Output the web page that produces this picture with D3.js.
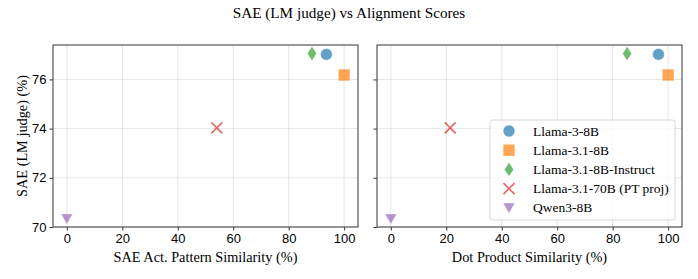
<!DOCTYPE html>
<html>
<head>
<meta charset="utf-8">
<script src="https://cdn.jsdelivr.net/npm/d3@7"></script>
<style>
  body { margin: 0; background: #fff; }
  svg { font-family: "Liberation Serif", "Times New Roman", serif; }
  .tick text { font-size: 13px; fill: #000; }
  .grid line { stroke: #000; stroke-opacity: 0.1; }
</style>
</head>
<body>
<svg id="chart" width="698" height="279"></svg>
<script>
// Model names, marker shapes and colours
const models = ["Llama-3-8B", "Llama-3.1-8B", "Llama-3.1-8B-Instruct", "Llama-3.1-70B (PT proj)", "Qwen3-8B"];
const shapes = ["circle", "square", "diamond", "cross", "triangle"];
const colors = ["#1f77b4", "#ff7f0e", "#2ca02c", "#d62728", "#9467bd"];

// Y values (SAE LM judge %), shared by both panels
const saeJudge = [77.02, 76.18, 77.05, 74.03, 70.34];
// X values per panel
const actPattern = [93.6, 100, 88.4, 54.1, 0];
const dotProduct = [96.5, 100, 85.2, 21.4, 0];

const xTicks = [0, 20, 40, 60, 80, 100];
const yTicks = [70, 72, 74, 76];

const panels = [
  { x: actPattern, label: "SAE Act. Pattern Similarity (%)", left: 53, right: 358, showY: true },
  { x: dotProduct, label: "Dot Product Similarity (%)", left: 377, right: 682, showY: false },
];

const plotTop = 45, plotBottom = 227;
const svg = d3.select("#chart");

svg.append("text")
  .attr("x", 349).attr("y", 18)
  .attr("text-anchor", "middle")
  .style("font-size", "15.2px")
  .text("SAE (LM judge) vs Alignment Scores");

const yScale = d3.scaleLinear().domain([70, 77.4]).range([plotBottom, plotTop]);

function markerPath(shape, s) {
  switch (shape) {
    case "circle": return d3.symbol(d3.symbolCircle, Math.PI * s * s)();
    case "square": return `M${-s},${-s}H${s}V${s}H${-s}Z`;
    case "diamond": return `M0,${-s * 1.2}L${s * 0.78},0L0,${s * 1.2}L${-s * 0.78},0Z`;
    case "cross": return `M${-s},${-s}L${s},${s}M${-s},${s}L${s},${-s}`;
    case "triangle": return `M${-s},${-s * 0.8}L${s},${-s * 0.8}L0,${s * 0.95}Z`;
  }
}

function drawMarker(g, i, cx, cy) {
  const shape = shapes[i];
  const size = shape === "cross" ? 5.5 : 5.9;
  const p = g.append("path")
    .attr("transform", `translate(${cx},${cy})`)
    .attr("d", markerPath(shape, size));
  if (shape === "cross") {
    p.attr("fill", "none").attr("stroke", colors[i]).attr("stroke-width", 1.6).attr("stroke-opacity", 0.7);
  } else {
    p.attr("fill", colors[i]).attr("fill-opacity", 0.7)
      .attr("stroke", "#fff").attr("stroke-width", 0.6).attr("stroke-opacity", 0.7);
  }
}

panels.forEach((pn) => {
  const xScale = d3.scaleLinear().domain([-5, 105]).range([pn.left, pn.right]);
  const g = svg.append("g");

  // grid
  const grid = g.append("g").attr("class", "grid");
  grid.selectAll("line.vx").data(xTicks).join("line").attr("class", "vx")
    .attr("x1", (d) => xScale(d)).attr("x2", (d) => xScale(d))
    .attr("y1", plotTop).attr("y2", plotBottom);
  grid.selectAll("line.hy").data(yTicks).join("line").attr("class", "hy")
    .attr("x1", pn.left).attr("x2", pn.right)
    .attr("y1", (d) => yScale(d)).attr("y2", (d) => yScale(d));

  // axes
  const xAxis = d3.axisBottom(xScale).tickValues(xTicks).tickSize(3.5).tickPadding(3);
  const gx = g.append("g").attr("transform", `translate(0,${plotBottom})`).call(xAxis);
  gx.select(".domain").remove();
  gx.selectAll(".tick line").attr("stroke", "#333");

  const yAxis = d3.axisLeft(yScale).tickValues(yTicks).tickSize(3.5).tickPadding(3);
  if (!pn.showY) yAxis.tickFormat("");
  const gy = g.append("g").attr("transform", `translate(${pn.left},0)`).call(yAxis);
  gy.select(".domain").remove();
  gy.selectAll(".tick line").attr("stroke", "#333");

  // frame
  g.append("rect")
    .attr("x", pn.left).attr("y", plotTop)
    .attr("width", pn.right - pn.left).attr("height", plotBottom - plotTop)
    .attr("fill", "none").attr("stroke", "#555").attr("stroke-width", 1.2);

  // points
  const pts = g.append("g");
  models.forEach((m, i) => drawMarker(pts, i, xScale(pn.x[i]), yScale(saeJudge[i])));

  // x label
  g.append("text")
    .attr("x", (pn.left + pn.right) / 2).attr("y", 262)
    .attr("text-anchor", "middle")
    .style("font-size", "14.3px")
    .text(pn.label);
});

// y label
svg.append("text")
  .attr("transform", `translate(27,${(plotTop + plotBottom) / 2}) rotate(-90)`)
  .attr("text-anchor", "middle")
  .style("font-size", "14.3px")
  .text("SAE (LM judge) (%)");

// legend
const lg = svg.append("g").attr("transform", "translate(490,120)");
lg.append("rect")
  .attr("width", 185).attr("height", 100).attr("rx", 2.5)
  .attr("fill", "#fff").attr("fill-opacity", 0.8)
  .attr("stroke", "#ccc").attr("stroke-width", 0.8);
models.forEach((m, i) => {
  const y = 11 + i * 19.2;
  drawMarker(lg, i, 19, y);
  lg.append("text")
    .attr("x", 43).attr("y", y + 4.5)
    .style("font-size", "13.5px")
    .text(m);
});
</script>
</body>
</html>
